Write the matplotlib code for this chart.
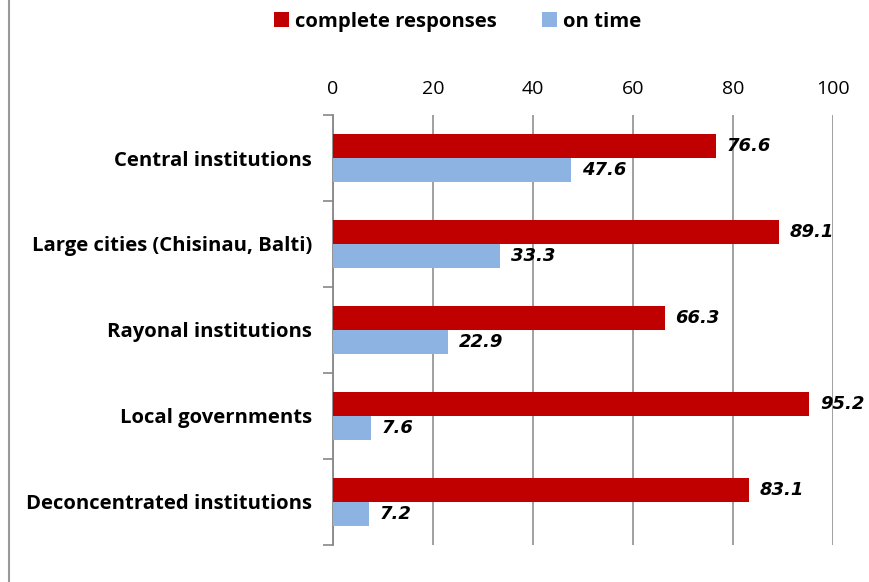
import matplotlib.pyplot as plt
from matplotlib.lines import Line2D

categories = ["Central institutions", "Large cities (Chisinau, Balti)",
              "Rayonal institutions", "Local governments",
              "Deconcentrated institutions"]
complete = [76.6, 89.1, 66.3, 95.2, 83.1]
on_time = [47.6, 33.3, 22.9, 7.6, 7.2]
xticks = [0, 20, 40, 60, 80, 100]

red = "#C00000"
blue = "#8DB3E2"
label_font = "Open Sans"

fig = plt.figure(figsize=(8.7, 5.82), dpi=100)
ax = fig.add_axes([0.3828, 0.0636, 0.5747, 0.7388])

h = 0.28
pos = list(range(len(categories)))
ax.barh([p - h / 2 for p in pos], complete, height=h, color=red, label="complete responses", zorder=3)
ax.barh([p + h / 2 for p in pos], on_time, height=h, color=blue, label="on time", zorder=3)

for p, v in zip(pos, complete):
    ax.text(v + 2.2, p - h / 2, f"{v:.1f}", va="center", ha="left", fontsize=13,
            fontweight="bold", fontstyle="italic", family="DejaVu Sans")
for p, v in zip(pos, on_time):
    ax.text(v + 2.2, p + h / 2, f"{v:.1f}", va="center", ha="left", fontsize=13,
            fontweight="bold", fontstyle="italic", family="DejaVu Sans")

ax.set_xlim(0, 100)
ax.set_ylim(len(categories) - 0.5, -0.5)
ax.xaxis.tick_top()
ax.set_xticks(xticks)
ax.set_xticklabels([str(t) for t in xticks], family=label_font, fontsize=14)
ax.tick_params(axis="x", length=0, pad=12)
ax.grid(axis="x", color="#999999", linewidth=1.3, zorder=0)

ax.set_yticks(pos)
ax.set_yticklabels(categories, family=label_font, fontweight="bold", fontsize=14.6)
ax.tick_params(axis="y", which="major", length=0, pad=15)
ax.set_yticks([p - 0.5 for p in pos] + [len(categories) - 0.5], minor=True)
ax.tick_params(axis="y", which="minor", length=7, color="#888888", width=1.2)

for s in ["top", "right", "bottom"]:
    ax.spines[s].set_visible(False)
ax.spines["left"].set_color("#888888")
ax.spines["left"].set_linewidth(1.3)

fig.legend(loc="center", bbox_to_anchor=(0.526, 0.963), ncol=2, frameon=False,
           handlelength=0.75, handleheight=0.75, handletextpad=0.3, columnspacing=2.2,
           prop={"family": label_font, "weight": "bold", "size": 14.6})

fig.add_artist(Line2D([0.0098, 0.0098], [0, 1], color="#999999", linewidth=1.5))

fig.savefig("out.png", dpi=100)
